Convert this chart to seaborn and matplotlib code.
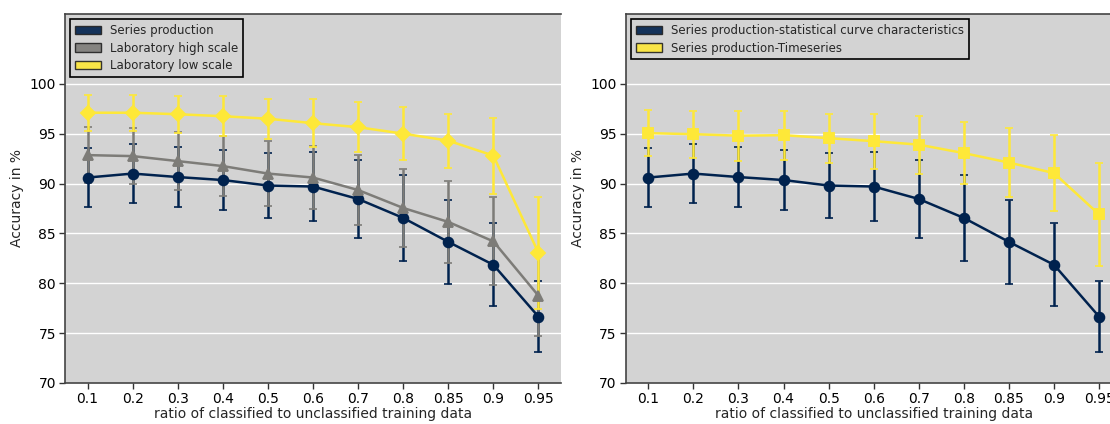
# Accuracy vs. ratio of classified training data

import numpy as np
import pandas as pd
import matplotlib
matplotlib.use("Agg")
import matplotlib.pyplot as plt
from matplotlib.patches import Patch
import seaborn as sns

# data
ratios = ["0.1", "0.2", "0.3", "0.4", "0.5", "0.6", "0.7", "0.8", "0.85", "0.9", "0.95"]

series_prod = [90.6, 91.0, 90.65, 90.35, 89.8, 89.7, 88.45, 86.55, 84.15, 81.85, 76.65]
series_prod_err = [2.95, 3.0, 3.0, 3.0, 3.25, 3.45, 3.9, 4.3, 4.2, 4.15, 3.55]

lab_high = [92.85, 92.75, 92.25, 91.75, 91.0, 90.6, 89.35, 87.55, 86.15, 84.2, 78.75]
lab_high_err = [2.8, 2.8, 2.9, 3.0, 3.3, 3.2, 3.5, 3.9, 4.1, 4.4, 4.0]

lab_low = [97.1, 97.1, 96.95, 96.75, 96.5, 96.05, 95.65, 95.0, 94.3, 92.8, 83.05]
lab_low_err = [1.8, 1.8, 1.85, 2.0, 2.0, 2.4, 2.5, 2.65, 2.7, 3.8, 5.65]

timeseries = [95.05, 94.95, 94.8, 94.85, 94.55, 94.25, 93.9, 93.05, 92.1, 91.05, 86.9]
timeseries_err = [2.3, 2.35, 2.5, 2.45, 2.45, 2.75, 2.9, 3.1, 3.45, 3.85, 5.15]

cmap = plt.get_cmap("cividis")
navy, grey, yellow = cmap(0.0), cmap(0.5), cmap(1.0)

sns.set_theme(style="whitegrid", rc={
    "axes.facecolor": "lightgrey",
    "grid.color": "white",
    "axes.edgecolor": "#444444",
    "axes.linewidth": 1.2,
    "xtick.bottom": True,
    "ytick.left": True,
    "xtick.color": "#333333",
    "ytick.color": "#333333",
    "xtick.labelcolor": "black",
    "ytick.labelcolor": "black",
})
plt.rcParams["font.family"] = ["DejaVu Sans"]

fig = plt.figure(figsize=(11.1, 4.24), dpi=100)
ax1 = fig.add_axes([0.0586, 0.0967, 0.4468, 0.8703])
ax2 = fig.add_axes([0.5637, 0.0967, 0.4468, 0.8703])


def draw(ax, names, values, errs, colors, markers):
    pos = np.arange(len(ratios))
    # error bars underneath the lines, later series on top
    for i, (v, e, c) in enumerate(zip(values, errs, colors)):
        ax.errorbar(pos, v, yerr=e, fmt="none", ecolor=c, elinewidth=1.8,
                    capsize=3, capthick=1.2, zorder=2 + i * 0.1)
    df = pd.DataFrame({
        "ratio": ratios * len(names),
        "acc": np.concatenate(values),
        "serie": np.repeat(names, len(ratios)),
    })
    sns.pointplot(data=df, x="ratio", y="acc", hue="serie", hue_order=names,
                  palette=colors, markers=markers, linestyles="-",
                  errorbar=None, markersize=7, linewidth=1.8,
                  legend=False, ax=ax, zorder=3)
    ax.set_ylim(70, 107)
    ax.set_yticks([70, 75, 80, 85, 90, 95, 100])
    ax.set_xlim(-0.5, len(ratios) - 0.5)
    ax.set_xlabel("ratio of classified to unclassified training data", fontsize=10, labelpad=1)
    ax.set_ylabel("Accuracy in %", fontsize=10)
    ax.tick_params(labelsize=10, length=4, width=1, pad=2.5)
    ax.spines["right"].set_visible(False)
    handles = [Patch(facecolor=c, edgecolor="#222222", alpha=0.9, label=n)
               for n, c in zip(names, colors)]
    leg = ax.legend(handles=handles, loc="upper left", fontsize=8.5, fancybox=False,
                    framealpha=1, edgecolor="black", borderaxespad=0.45,
                    handlelength=2.2, labelspacing=0.4)
    leg.get_frame().set_linewidth(1.2)


draw(ax1,
     ["Series production", "Laboratory high scale", "Laboratory low scale"],
     [series_prod, lab_high, lab_low],
     [series_prod_err, lab_high_err, lab_low_err],
     [navy, grey, yellow], ["o", "^", "D"])

draw(ax2,
     ["Series production-statistical curve characteristics", "Series production-Timeseries"],
     [series_prod, timeseries],
     [series_prod_err, timeseries_err],
     [navy, yellow], ["o", "s"])

fig.savefig("out.png", dpi=100)
